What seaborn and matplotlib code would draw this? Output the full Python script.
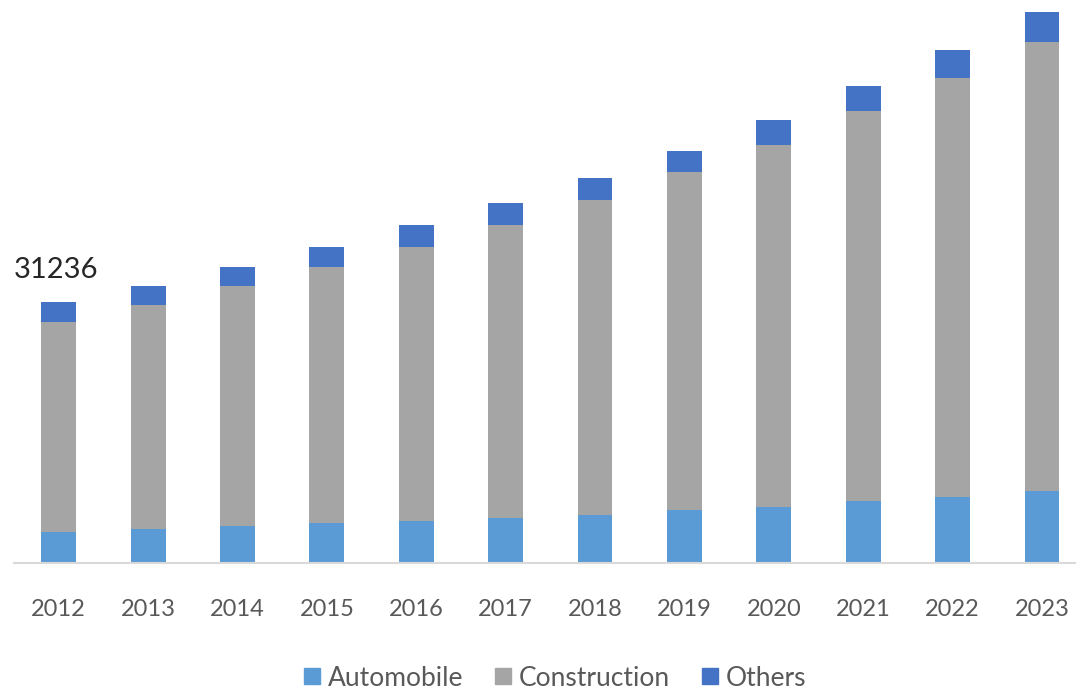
import numpy as np
import matplotlib
matplotlib.use('Agg')
import matplotlib.pyplot as plt
from matplotlib.lines import Line2D
import seaborn as sns

years = ['2012', '2013', '2014', '2015', '2016', '2017',
         '2018', '2019', '2020', '2021', '2022', '2023']
automobile = [3700, 4070, 4430, 4790, 5030, 5390, 5750, 6340, 6700, 7420, 7900, 8620]
construction = [25150, 26810, 28730, 30640, 32800, 35070, 37700, 40460, 43330, 46680, 50150, 53750]
others = [2386, 2270, 2270, 2390, 2630, 2630, 2630, 2510, 2990, 2990, 3350, 3590]
series_names = ['Automobile', 'Construction', 'Others']
colors = ['#5B9BD5', '#A5A5A5', '#4472C4']

sns.set_style('white')
plt.rcParams['font.family'] = ['Lato', 'DejaVu Sans']

auto = np.array(automobile)
cons_top = auto + np.array(construction)
total = cons_top + np.array(others)

fig = plt.figure(figsize=(10.76, 6.94), dpi=100)
ax = fig.add_axes([14 / 1076, 131 / 694, 1 - 14 / 1076, 563 / 694])

# stacked look: draw cumulative heights from the top layer down
for heights, c in zip([total, cons_top, auto], colors[::-1]):
    sns.barplot(x=years, y=heights, color=c, width=0.39, saturation=1,
                linewidth=0, ax=ax)

ax.set_xlim(-0.5, 11.38)
ax.set_ylim(0, 67400)
ax.set_yticks([])
ax.set_xlabel('')
ax.set_ylabel('')
for s in ['top', 'right', 'left']:
    ax.spines[s].set_visible(False)
ax.spines['bottom'].set_color('#D9D9D9')
ax.spines['bottom'].set_linewidth(1.5)
ax.tick_params(axis='x', length=0, pad=26, labelsize=17, labelcolor='#595959')

ax.annotate(f'{total[0]}', xy=(-0.5, total[0]), xytext=(0, 14),
            textcoords='offset points', ha='left', va='bottom',
            fontsize=21, color='#262626')

handles = [Line2D([], [], marker='s', linestyle='', markersize=11,
                  markerfacecolor=c, markeredgecolor=c) for c in colors]
fig.legend(handles, series_names, loc='center', ncol=3,
           bbox_to_anchor=(555 / 1076, 16 / 694), frameon=False,
           fontsize=19, handlelength=0.6, handletextpad=0.3,
           columnspacing=1.2, labelcolor='#595959')

fig.savefig('out.png', dpi=100)
